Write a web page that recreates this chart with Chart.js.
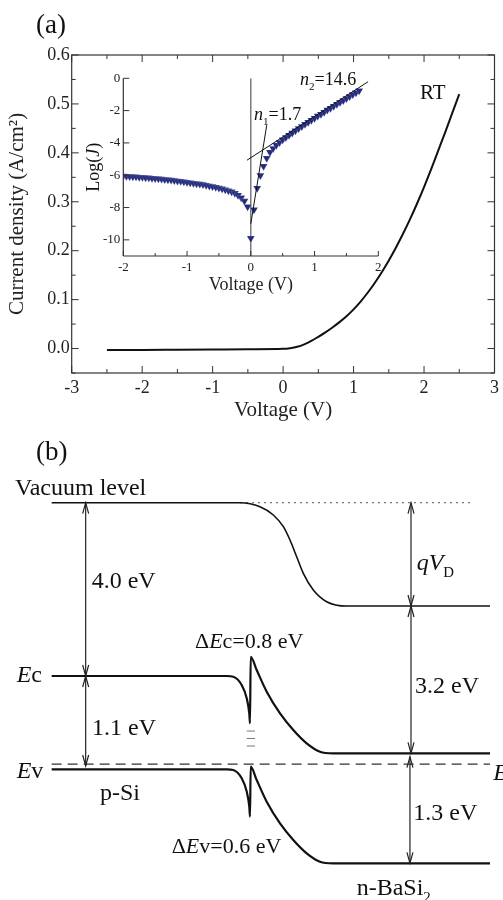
<!DOCTYPE html>
<html><head><meta charset="utf-8">
<script src="https://cdn.jsdelivr.net/npm/chart.js@4.4.1/dist/chart.umd.min.js"></script>
<style>
html,body{margin:0;padding:0;background:#fff;}
#wrap{position:relative;width:503px;height:900px;overflow:hidden;background:#fff}
canvas{position:absolute;}
</style></head><body>
<div id="wrap">
<canvas id="cMain" width="503" height="430" style="left:0;top:0"></canvas>
<canvas id="cInset" width="330" height="240" style="left:60px;top:60px"></canvas>
<canvas id="cBand" width="503" height="470" style="left:0;top:430px"></canvas>
</div>
<script>
// ---------- (a) main J-V curve ----------
const mainV = [-2.5,-2.0,-1.5,-1.0,-0.5,0.0,0.1,0.2,0.3,0.4,0.5,0.6,0.7,0.8,0.9,1.0,1.1,1.2,1.3,1.4,1.5,1.6,1.7,1.8,1.9,2.0,2.1,2.2,2.3,2.4,2.5];
const mainJ = [-0.003,-0.003,-0.0025,-0.002,-0.0015,-0.0006,0.0008,0.0035,0.0085,0.0155,0.024,0.033,0.043,0.054,0.066,0.080,0.096,0.114,0.134,0.156,0.180,0.206,0.234,0.264,0.296,0.330,0.366,0.404,0.442,0.481,0.520];
const mainXTicks = [-3,-2,-1,0,1,2,3];
const mainXMinor = [-2.5,-1.5,-0.5,0.5,1.5,2.5];
const mainYTicks = [0.0,0.1,0.2,0.3,0.4,0.5,0.6];
const mainYMinor = [-0.05,0.05,0.15,0.25,0.35,0.45,0.55];

// ---------- (a) inset log(J) ----------
const revV = [-2.00,-1.95,-1.90,-1.85,-1.80,-1.75,-1.70,-1.65,-1.60,-1.55,-1.50,-1.45,-1.40,-1.35,-1.30,-1.25,-1.20,-1.15,-1.10,-1.05,-1.00,-0.95,-0.90,-0.85,-0.80,-0.75,-0.70,-0.65,-0.60,-0.55,-0.50,-0.45,-0.40,-0.35,-0.30,-0.25,-0.20,-0.15,-0.10,-0.05,0.00];
const revL = [-6.05,-6.06,-6.08,-6.09,-6.10,-6.12,-6.13,-6.15,-6.16,-6.18,-6.20,-6.22,-6.24,-6.26,-6.28,-6.30,-6.32,-6.35,-6.37,-6.40,-6.43,-6.46,-6.49,-6.52,-6.55,-6.58,-6.62,-6.66,-6.70,-6.74,-6.79,-6.84,-6.90,-6.96,-7.03,-7.12,-7.24,-7.40,-7.60,-7.95,-9.90];
const fwdV = [0.05,0.10,0.15,0.20,0.25,0.30,0.35,0.40,0.45,0.50,0.55,0.60,0.65,0.70,0.75,0.80,0.85,0.90,0.95,1.00,1.05,1.10,1.15,1.20,1.25,1.30,1.35,1.40,1.45,1.50,1.55,1.60,1.65,1.70];
const fwdL = [-8.14,-6.80,-6.02,-5.45,-4.95,-4.58,-4.34,-4.14,-3.97,-3.81,-3.66,-3.52,-3.38,-3.24,-3.11,-2.98,-2.85,-2.72,-2.59,-2.47,-2.34,-2.22,-2.10,-1.97,-1.85,-1.73,-1.61,-1.49,-1.37,-1.25,-1.13,-1.01,-0.89,-0.77];
const fit1V = [0.0, 0.25];
const fit1L = [-9.0, -2.9];
const fit2V = [-0.06, 1.84];
const fit2L = [-5.07, -0.21];
const zeroV = [0, 0];
const zeroL = [0, -11];
const insetXTicks = [-2,-1,0,1,2];
const insetXMinor = [-1.5,-0.5,0.5,1.5];
const insetYTicks = [0,-2,-4,-6,-8,-10];

// ---------- (b) band diagram (schematic position / energy) ----------
const vacX = [10.27,47.71,51.69,54.34,56.33,57.65,58.98,60.30,62.29,64.94,68.92,97.42];
const vacE = [0,0,-0.092,-0.284,-0.554,-0.862,-1.247,-1.631,-2.016,-2.286,-2.386,-2.386];
const vacDotX = [47.71, 94.1];
const vacDotE = [0, 0];
const ecX = [10.27,45.07,46.38,48.05,49.05,49.56,49.70,49.84,51.03,53.02,55.67,58.31,60.97,63.62,66.2,97.42];
const ecE = [-4.002,-4.002,-4.018,-4.210,-4.517,-4.864,-5.095,-3.557,-3.864,-4.365,-4.864,-5.249,-5.557,-5.751,-5.788,-5.788];
const evX = [10.27,45.07,46.38,48.05,49.05,49.56,49.70,49.84,51.03,53.02,55.67,58.31,60.97,63.62,66.2,97.42];
const evE = [-6.157,-6.157,-6.173,-6.365,-6.672,-7.019,-7.250,-6.097,-6.404,-6.905,-7.404,-7.789,-8.097,-8.291,-8.328,-8.328];
const fermiX = [10.27, 97.42];
const fermiE = [-6.035, -6.035];
const ifX = [49.05, 50.7];
const ifE = [-5.273, -5.446, -5.619];
// double arrows: position, from, to
const arrX = [17.03, 17.03, 81.71, 81.71, 81.5];
const arrFrom = [0, -4.002, 0, -2.386, -5.866];
const arrTo = [-4.002, -6.08, -2.386, -5.788, -8.328];

const SERIF = '"Liberation Serif", "Times New Roman", serif';
Chart.defaults.font.family = SERIF;
Chart.defaults.color = '#222';

const pts = (xs, ys) => xs.map((v, i) => ({x: v, y: ys[i]}));

function rich(ctx, x, y, parts, size) {
  let cx = x;
  ctx.textBaseline = 'alphabetic';
  ctx.textAlign = 'left';
  for (const p of parts) {
    const s = (p.sub || p.sup) ? size * 0.62 : size;
    ctx.font = (p.i ? 'italic ' : '') + s + 'px ' + SERIF;
    const dy = p.sub ? size * 0.3 : (p.sup ? -size * 0.4 : 0);
    ctx.fillText(p.t, cx, y + dy);
    cx += ctx.measureText(p.t).width;
  }
  return cx - x;
}
function richWidth(ctx, parts, size) {
  let w = 0;
  for (const p of parts) {
    const s = (p.sub || p.sup) ? size * 0.62 : size;
    ctx.font = (p.i ? 'italic ' : '') + s + 'px ' + SERIF;
    w += ctx.measureText(p.t).width;
  }
  return w;
}
function seg(ctx, x1, y1, x2, y2) {
  ctx.beginPath(); ctx.moveTo(x1, y1); ctx.lineTo(x2, y2); ctx.stroke();
}

// ---------- main chart ----------
const mainDeco = {
  id: 'mainDeco',
  afterDraw(chart) {
    const {ctx, chartArea: a, scales: {x, y}} = chart;
    ctx.save();
    ctx.strokeStyle = '#333'; ctx.lineWidth = 1.2;
    ctx.strokeRect(a.left, a.top, a.right - a.left, a.bottom - a.top);
    ctx.lineWidth = 1;
    for (const v of mainXTicks.concat(mainXMinor)) {
      const p = x.getPixelForValue(v);
      const L = mainXTicks.includes(v) ? 7 : 4;
      seg(ctx, p, a.bottom, p, a.bottom - L);
      seg(ctx, p, a.top, p, a.top + L);
    }
    for (const v of mainYTicks.concat(mainYMinor)) {
      const p = y.getPixelForValue(v);
      const L = mainYTicks.includes(v) ? 7 : 4;
      seg(ctx, a.left, p, a.left + L, p);
      seg(ctx, a.right, p, a.right - L, p);
    }
    ctx.fillStyle = '#111';
    rich(ctx, 420, 98.5, [{t: 'RT'}], 21);
    rich(ctx, 36, 33, [{t: '(a)'}], 27);
    ctx.restore();
  }
};

new Chart(document.getElementById('cMain'), {
  type: 'line',
  data: {datasets: [{
    data: pts(mainV, mainJ), borderColor: '#111', borderWidth: 2, pointRadius: 0,
    cubicInterpolationMode: 'monotone', fill: false
  }]},
  options: {
    responsive: false, animation: false, events: [],
    layout: {padding: {top: 55, right: 4, left: 0, bottom: 0}},
    plugins: {legend: {display: false}, tooltip: {enabled: false}},
    scales: {
      x: {
        type: 'linear', min: -3, max: 3,
        grid: {display: false, drawTicks: false}, border: {display: false},
        afterBuildTicks: s => { s.ticks = mainXTicks.map(v => ({value: v})); },
        afterFit: s => { s.height = 57; },
        ticks: {font: {size: 18}, padding: 4, maxRotation: 0, autoSkip: false, color: '#222', callback: v => String(v)},
        title: {display: true, text: 'Voltage (V)', font: {size: 21}, color: '#222', padding: {top: 0, bottom: 7}}
      },
      y: {
        type: 'linear', min: -0.05, max: 0.6,
        grid: {display: false, drawTicks: false}, border: {display: false},
        afterBuildTicks: s => { s.ticks = mainYTicks.map(v => ({value: v})); },
        afterFit: s => { s.width = 71.7; },
        ticks: {font: {size: 18}, padding: 2, autoSkip: false, color: '#222', callback: v => Number(v).toFixed(1)},
        title: {display: true, text: 'Current density (A/cm²)', font: {size: 21}, color: '#222', padding: {top: 5, bottom: 0}}
      }
    }
  },
  plugins: [mainDeco]
});

// ---------- inset ----------
const insetDeco = {
  id: 'insetDeco',
  afterDraw(chart) {
    const {ctx, chartArea: a, scales: {x, y}} = chart;
    ctx.save();
    ctx.strokeStyle = '#333'; ctx.lineWidth = 1.2;
    seg(ctx, a.left, a.top, a.left, a.bottom);
    seg(ctx, a.left, a.bottom, a.right, a.bottom);
    ctx.lineWidth = 1;
    for (const v of insetXTicks.concat(insetXMinor)) {
      const p = x.getPixelForValue(v);
      const L = insetXTicks.includes(v) ? 5 : 3;
      seg(ctx, p, a.bottom, p, a.bottom - L);
    }
    for (const v of insetYTicks) {
      const p = y.getPixelForValue(v);
      seg(ctx, a.left, p, a.left + 6, p);
    }
    ctx.fillStyle = '#111';
    rich(ctx, 240, 25, [{t: 'n', i: 1}, {t: '2', sub: 1}, {t: '=14.6'}], 18);
    rich(ctx, 194, 60, [{t: 'n', i: 1}, {t: '1', sub: 1}, {t: '=1.7'}], 18);
    // rotated y title Log(J) with italic J
    const parts = [{t: 'Log('}, {t: 'J', i: 1}, {t: ')'}];
    const w = richWidth(ctx, parts, 18);
    ctx.translate(39, (a.top + a.bottom) / 2);
    ctx.rotate(-Math.PI / 2);
    rich(ctx, -w / 2, 0, parts, 18);
    ctx.restore();
  }
};

const triColor = '#252c7e';
new Chart(document.getElementById('cInset'), {
  type: 'line',
  data: {datasets: [
    {data: pts(fit2V, fit2L), borderColor: '#111', borderWidth: 1, pointRadius: 0, fill: false},
    {data: pts(fit1V, fit1L), borderColor: '#111', borderWidth: 1, pointRadius: 0, fill: false},
    {data: pts(fwdV, fwdL), showLine: false, pointStyle: 'triangle', rotation: 180, pointRadius: 4.5,
     backgroundColor: triColor, borderColor: 'rgba(255,255,255,0.35)', borderWidth: 0.4},
    {data: pts(revV, revL), showLine: false, pointStyle: 'triangle', rotation: 180, pointRadius: 4.5,
     backgroundColor: triColor, borderColor: 'rgba(255,255,255,0.35)', borderWidth: 0.4},
    {data: pts(zeroV, zeroL), borderColor: '#666', borderWidth: 1.3, pointRadius: 0, fill: false}
  ]},
  options: {
    responsive: false, animation: false, events: [],
    layout: {padding: {top: 18.3, right: 11.7, left: 0, bottom: 0}},
    plugins: {legend: {display: false}, tooltip: {enabled: false}},
    scales: {
      x: {
        type: 'linear', min: -2, max: 2,
        grid: {display: false, drawTicks: false}, border: {display: false},
        afterBuildTicks: s => { s.ticks = insetXTicks.map(v => ({value: v})); },
        afterFit: s => { s.height = 44; },
        ticks: {font: {size: 13}, padding: 4, maxRotation: 0, autoSkip: false, color: '#222', callback: v => String(v)},
        title: {display: true, text: 'Voltage (V)', font: {size: 18}, color: '#222', padding: {top: 0, bottom: 4}}
      },
      y: {
        type: 'linear', min: -11, max: 0,
        grid: {display: false, drawTicks: false}, border: {display: false},
        afterBuildTicks: s => { s.ticks = insetYTicks.map(v => ({value: v})); },
        afterFit: s => { s.width = 63.3; },
        ticks: {font: {size: 13}, padding: 3, autoSkip: false, color: '#222', callback: v => String(v)},
        title: {display: false}
      }
    }
  },
  plugins: [insetDeco]
});

// ---------- band diagram ----------
const bandDeco = {
  id: 'bandDeco',
  afterDraw(chart) {
    const {ctx, scales: {x, y}} = chart;
    ctx.save();
    ctx.strokeStyle = '#222'; ctx.lineWidth = 1.2;
    for (let i = 0; i < arrX.length; i++) {
      const px = x.getPixelForValue(arrX[i]);
      const p1 = y.getPixelForValue(arrFrom[i]);
      const p2 = y.getPixelForValue(arrTo[i]);
      seg(ctx, px, p1, px, p2);
      ctx.beginPath();
      ctx.moveTo(px - 3, p1 + 11); ctx.lineTo(px, p1); ctx.lineTo(px + 3, p1 + 11);
      ctx.moveTo(px - 3, p2 - 11); ctx.lineTo(px, p2); ctx.lineTo(px + 3, p2 - 11);
      ctx.stroke();
    }
    ctx.fillStyle = '#111';
    rich(ctx, 36, 30, [{t: '(b)'}], 27);
    rich(ctx, 15, 65, [{t: 'Vacuum level'}], 24);
    rich(ctx, 91.7, 158.3, [{t: '4.0 eV'}], 24);
    rich(ctx, 92, 305, [{t: '1.1 eV'}], 24);
    rich(ctx, 416.7, 140, [{t: 'q', i: 1}, {t: 'V', i: 1}, {t: 'D', sub: 1}], 24);
    rich(ctx, 415, 263.3, [{t: '3.2 eV'}], 24);
    rich(ctx, 413.3, 390, [{t: '1.3 eV'}], 24);
    rich(ctx, 195, 218.3, [{t: 'Δ'}, {t: 'E', i: 1}, {t: 'c=0.8 eV'}], 22);
    rich(ctx, 171.7, 423.3, [{t: 'Δ'}, {t: 'E', i: 1}, {t: 'v=0.6 eV'}], 22);
    rich(ctx, 16.7, 251.7, [{t: 'E', i: 1}, {t: 'c'}], 24);
    rich(ctx, 16.7, 348.3, [{t: 'E', i: 1}, {t: 'v'}], 24);
    rich(ctx, 100, 370, [{t: 'p-Si'}], 24);
    rich(ctx, 356.7, 465, [{t: 'n-BaSi'}, {t: '2', sub: 1}], 24);
    rich(ctx, 493.3, 350, [{t: 'E', i: 1}], 24);
    ctx.restore();
  }
};

const bandSets = [
  {data: pts(vacX, vacE), borderColor: '#111', borderWidth: 1.6, pointRadius: 0, cubicInterpolationMode: 'monotone', fill: false},
  {data: pts(vacDotX, vacDotE), borderColor: '#555', borderWidth: 1, borderDash: [2, 4], pointRadius: 0, fill: false},
  {data: pts(ecX, ecE), borderColor: '#111', borderWidth: 2.2, pointRadius: 0, cubicInterpolationMode: 'monotone', fill: false},
  {data: pts(evX, evE), borderColor: '#111', borderWidth: 2.2, pointRadius: 0, cubicInterpolationMode: 'monotone', fill: false},
  {data: pts(fermiX, fermiE), borderColor: '#333', borderWidth: 1.3, borderDash: [10, 6], pointRadius: 0, fill: false}
];
for (const e of ifE) {
  bandSets.push({data: pts(ifX, [e, e]), borderColor: '#777', borderWidth: 1, pointRadius: 0, fill: false});
}

new Chart(document.getElementById('cBand'), {
  type: 'line',
  data: {datasets: bandSets},
  options: {
    responsive: false, animation: false, events: [],
    layout: {padding: 0},
    plugins: {legend: {display: false}, tooltip: {enabled: false}},
    scales: {
      x: {type: 'linear', display: false, min: 0, max: 100},
      y: {type: 'linear', display: false, min: -9.175, max: 1.679}
    }
  },
  plugins: [bandDeco]
});
</script>
</body></html>
